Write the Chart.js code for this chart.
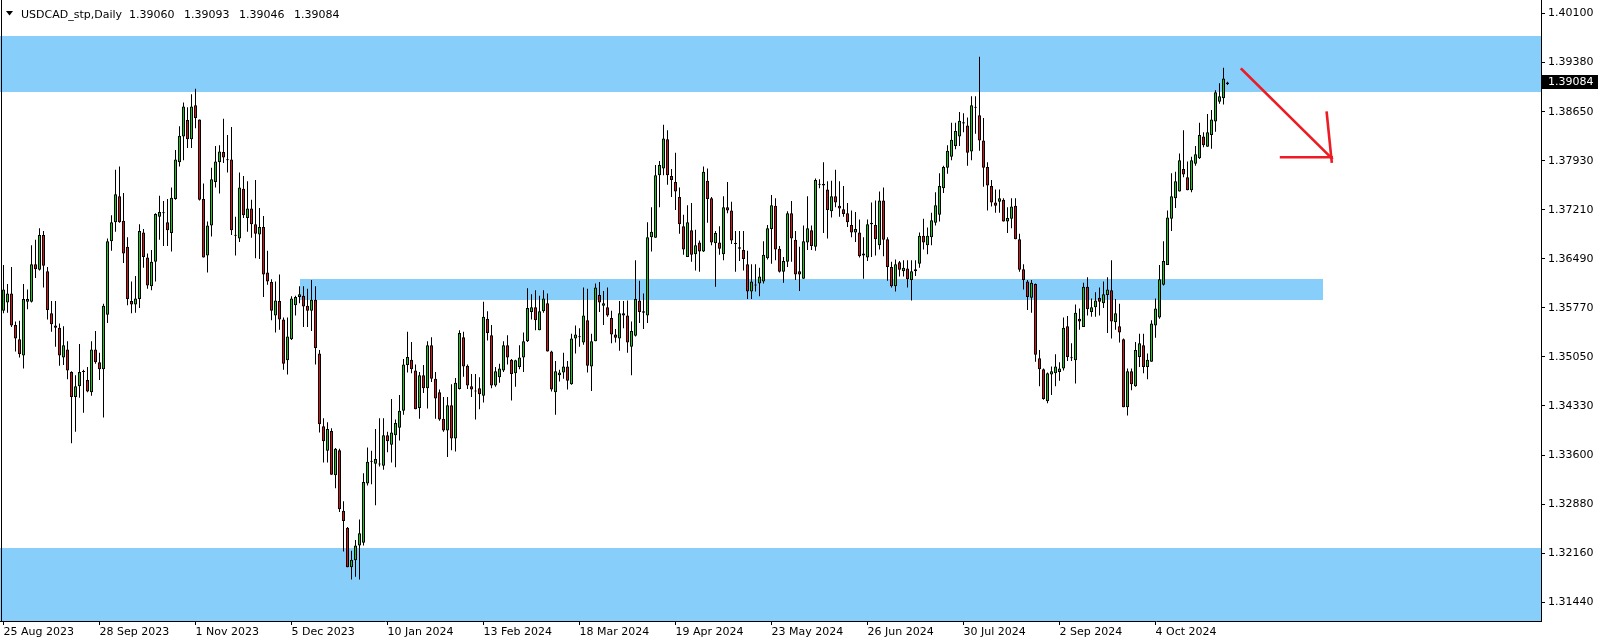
<!DOCTYPE html>
<html><head><meta charset="utf-8">
<script src="https://cdn.jsdelivr.net/npm/chart.js@4.4.1/dist/chart.umd.min.js"></script>
<style>html,body{margin:0;padding:0;background:#fff;overflow:hidden}#wrap{width:1604px;height:644px}</style>
</head><body><div id="wrap"><canvas id="c" width="1604" height="644"></canvas></div>
<script>
// ===== USDCAD_stp Daily — MT4 style candles =====
const SYMBOL='USDCAD_stp,Daily';
const DATE_TICKS=['25 Aug 2023','28 Sep 2023','1 Nov 2023','5 Dec 2023','10 Jan 2024','13 Feb 2024','18 Mar 2024','19 Apr 2024','23 May 2024','26 Jun 2024','30 Jul 2024','2 Sep 2024','4 Oct 2024'];
const TICK_EVERY=24;
const Y_TICKS=[1.40100,1.39380,1.38650,1.37930,1.37210,1.36490,1.35770,1.35050,1.34330,1.33600,1.32880,1.32160,1.31440];

const OPEN=[
1.3573,1.3585,1.3598,1.3552,1.3531,1.3507,1.3586,1.3586,1.3641,1.3633,
1.3684,1.3631,1.3569,1.3551,1.3548,1.3504,1.3516,1.3483,1.3446,1.3462,
1.3483,1.3471,1.3453,1.3516,1.3497,1.3487,1.3567,1.3675,1.3703,1.3741,
1.3705,1.3667,1.3587,1.3582,1.3590,1.3688,1.3651,1.3609,1.3645,1.3711,
1.3716,1.3703,1.3687,1.3737,1.3791,1.3829,1.3853,1.3825,1.3875,1.3854,
1.3737,1.3654,1.3698,1.3762,1.3791,1.3806,1.3795,1.3795,1.3683,1.3679,
1.3752,1.3709,1.3723,1.3700,1.3685,1.3696,1.3629,1.3615,1.3566,1.3587,
1.3560,1.3500,1.3531,1.3581,1.3593,1.3595,1.3580,1.3573,1.3589,1.3510,
1.3403,1.3367,1.3396,1.3331,1.3368,1.3279,1.3254,1.3196,1.3206,1.3228,
1.3232,1.3319,1.3351,1.3348,1.3347,1.3345,1.3390,1.3376,1.3390,1.3401,
1.3426,1.3493,1.3501,1.3485,1.3430,1.3478,1.3459,1.3522,1.3473,1.3453,
1.3414,1.3397,1.3434,1.3385,1.3458,1.3534,1.3492,1.3462,1.3454,1.3459,
1.3448,1.3561,1.3537,1.3463,1.3475,1.3485,1.3522,1.3501,1.3481,1.3490,
1.3504,1.3528,1.3571,1.3578,1.3544,1.3572,1.3584,1.3513,1.3453,1.3478,
1.3482,1.3491,1.3465,1.3532,1.3534,1.3526,1.3559,1.3491,1.3528,1.3596,
1.3580,1.3578,1.3562,1.3538,1.3532,1.3569,1.3566,1.3520,1.3536,1.3588,
1.3572,1.3566,1.3681,1.3680,1.3772,1.3782,1.3825,1.3771,1.3762,1.3740,
1.3697,1.3652,1.3691,1.3656,1.3673,1.3660,1.3764,1.3738,1.3672,1.3673,
1.3656,1.3725,1.3720,1.3671,1.3666,1.3662,1.3641,1.3601,1.3610,1.3613,
1.3616,1.3650,1.3693,1.3727,1.3664,1.3630,1.3645,1.3716,1.3677,1.3631,
1.3620,1.3673,1.3691,1.3667,1.3758,1.3757,1.3751,1.3719,1.3741,1.3727,
1.3722,1.3716,1.3699,1.3688,1.3688,1.3654,1.3651,1.3702,1.3699,1.3669,
1.3735,1.3678,1.3637,1.3609,1.3644,1.3631,1.3635,1.3618,1.3631,1.3642,
1.3683,1.3669,1.3681,1.3702,1.3714,1.3753,1.3783,1.3799,1.3815,1.3829,
1.3850,1.3845,1.3807,1.3871,1.3860,1.3823,1.3784,1.3756,1.3732,1.3733,
1.3736,1.3704,1.3708,1.3727,1.3678,1.3634,1.3616,1.3592,1.3612,1.3503,
1.3487,1.3440,1.3479,1.3481,1.3483,1.3488,1.3550,1.3503,1.3500,1.3561,
1.3549,1.3608,1.3571,1.3578,1.3592,1.3584,1.3596,1.3603,1.3556,1.3550,
1.3531,1.3431,1.3484,1.3462,1.3505,1.3522,1.3490,1.3498,1.3551,1.3563,
1.3611,1.3640,1.3708,1.3738,1.3748,1.3781,1.3769,1.3750,1.3789,1.3797,
1.3829,1.3814,1.3831,1.3851,1.3880,1.3885,1.39060];
const HIGH=[
1.3640,1.3612,1.3637,1.3557,1.3558,1.3612,1.3604,1.3669,1.3677,1.3694,
1.3690,1.3637,1.3587,1.3587,1.3554,1.3550,1.3528,1.3484,1.3478,1.3524,
1.3486,1.3490,1.3528,1.3543,1.3511,1.3583,1.3679,1.3713,1.3780,1.3785,
1.3746,1.3681,1.3616,1.3624,1.3700,1.3693,1.3657,1.3662,1.3716,1.3742,
1.3734,1.3737,1.3754,1.3809,1.3844,1.3879,1.3872,1.3891,1.3899,1.3854,
1.3760,1.3704,1.3783,1.3815,1.3816,1.3855,1.3831,1.3843,1.3711,1.3776,
1.3771,1.3763,1.3736,1.3765,1.3724,1.3712,1.3661,1.3619,1.3616,1.3626,
1.3563,1.3563,1.3594,1.3595,1.3609,1.3609,1.3605,1.3618,1.3609,1.3515,
1.3415,1.3409,1.3400,1.3371,1.3370,1.3293,1.3255,1.3220,1.3236,1.3266,
1.3334,1.3372,1.3367,1.3399,1.3415,1.3415,1.3395,1.3443,1.3413,1.3449,
1.3502,1.3542,1.3527,1.3494,1.3483,1.3493,1.3528,1.3534,1.3483,1.3457,
1.3446,1.3446,1.3465,1.3474,1.3544,1.3542,1.3494,1.3480,1.3480,1.3475,
1.3586,1.3572,1.3552,1.3490,1.3495,1.3528,1.3537,1.3502,1.3501,1.3522,
1.3541,1.3606,1.3597,1.3603,1.3595,1.3603,1.3598,1.3514,1.3499,1.3486,
1.3511,1.3499,1.3539,1.3551,1.3547,1.3607,1.3605,1.3539,1.3613,1.3615,
1.3602,1.3607,1.3573,1.3546,1.3587,1.3587,1.3588,1.3557,1.3647,1.3617,
1.3598,1.3703,1.3725,1.3787,1.3793,1.3846,1.3838,1.3781,1.3805,1.3754,
1.3714,1.3728,1.3731,1.3692,1.3676,1.3785,1.3782,1.3740,1.3690,1.3697,
1.3741,1.3762,1.3733,1.3690,1.3690,1.3690,1.3661,1.3641,1.3641,1.3636,
1.3675,1.3699,1.3743,1.3738,1.3668,1.3652,1.3719,1.3734,1.3690,1.3667,
1.3698,1.3741,1.3698,1.3767,1.3766,1.3791,1.3763,1.3764,1.3780,1.3763,
1.3756,1.3731,1.3720,1.3718,1.3707,1.3681,1.3707,1.3732,1.3735,1.3748,
1.3754,1.3681,1.3645,1.3648,1.3646,1.3647,1.3647,1.3647,1.3647,1.3688,
1.3708,1.3695,1.3717,1.3747,1.3775,1.3786,1.3816,1.3849,1.3849,1.3865,
1.3863,1.3857,1.3888,1.3888,1.3946,1.3856,1.3791,1.3765,1.3751,1.3751,
1.3738,1.3725,1.3738,1.3738,1.3686,1.3641,1.3618,1.3618,1.3613,1.3515,
1.3488,1.3482,1.3491,1.3509,1.3497,1.3563,1.3565,1.3525,1.3582,1.3576,
1.3614,1.3622,1.3591,1.3600,1.3607,1.3616,1.3622,1.3647,1.3590,1.3583,
1.3532,1.3488,1.3488,1.3527,1.3539,1.3539,1.3510,1.3559,1.3591,1.3640,
1.3675,1.3720,1.3775,1.3777,1.3804,1.3838,1.3792,1.3799,1.3815,1.3849,
1.3835,1.3862,1.3868,1.3897,1.3907,1.3930,1.39093];
const LOW=[
1.3569,1.3570,1.3549,1.3513,1.3504,1.3488,1.3575,1.3585,1.3621,1.3632,
1.3607,1.3560,1.3542,1.3520,1.3492,1.3493,1.3472,1.3378,1.3395,1.3445,
1.3423,1.3453,1.3448,1.3495,1.3471,1.3416,1.3555,1.3661,1.3689,1.3702,
1.3643,1.3581,1.3569,1.3570,1.3577,1.3636,1.3605,1.3603,1.3616,1.3677,
1.3668,1.3668,1.3660,1.3736,1.3785,1.3794,1.3812,1.3812,1.3841,1.3735,
1.3651,1.3629,1.3682,1.3754,1.3745,1.3790,1.3776,1.3684,1.3654,1.3674,
1.3709,1.3689,1.3680,1.3650,1.3649,1.3593,1.3611,1.3559,1.3541,1.3545,
1.3486,1.3479,1.3530,1.3566,1.3584,1.3549,1.3549,1.3543,1.3494,1.3394,
1.3350,1.3350,1.3332,1.3312,1.3277,1.3219,1.3196,1.3178,1.3182,1.3178,
1.3228,1.3316,1.3318,1.3287,1.3344,1.3339,1.3365,1.3350,1.3343,1.3382,
1.3420,1.3482,1.3481,1.3428,1.3414,1.3452,1.3429,1.3468,1.3414,1.3411,
1.3395,1.3358,1.3368,1.3366,1.3457,1.3476,1.3458,1.3446,1.3413,1.3428,
1.3438,1.3529,1.3459,1.3461,1.3467,1.3483,1.3494,1.3441,1.3461,1.3487,
1.3483,1.3527,1.3560,1.3544,1.3544,1.3570,1.3513,1.3454,1.3420,1.3469,
1.3473,1.3457,1.3464,1.3510,1.3520,1.3523,1.3482,1.3455,1.3528,1.3571,
1.3552,1.3564,1.3525,1.3526,1.3514,1.3547,1.3511,1.3478,1.3535,1.3555,
1.3546,1.3555,1.3660,1.3680,1.3725,1.3772,1.3758,1.3740,1.3721,1.3686,
1.3655,1.3652,1.3645,1.3632,1.3630,1.3659,1.3702,1.3669,1.3608,1.3655,
1.3647,1.3716,1.3671,1.3630,1.3646,1.3632,1.3590,1.3590,1.3601,1.3594,
1.3613,1.3648,1.3642,1.3647,1.3629,1.3614,1.3637,1.3645,1.3618,1.3602,
1.3620,1.3662,1.3662,1.3661,1.3753,1.3687,1.3679,1.3710,1.3725,1.3711,
1.3711,1.3696,1.3681,1.3674,1.3651,1.3620,1.3646,1.3652,1.3654,1.3663,
1.3653,1.3617,1.3607,1.3601,1.3623,1.3623,1.3607,1.3588,1.3624,1.3636,
1.3663,1.3656,1.3669,1.3698,1.3704,1.3746,1.3774,1.3794,1.3810,1.3815,
1.3835,1.3786,1.3794,1.3833,1.3808,1.3755,1.3720,1.3726,1.3717,1.3717,
1.3704,1.3687,1.3694,1.3678,1.3630,1.3604,1.3574,1.3570,1.3498,1.3462,
1.3442,1.3437,1.3449,1.3462,1.3470,1.3485,1.3499,1.3499,1.3466,1.3545,
1.3549,1.3566,1.3564,1.3564,1.3566,1.3577,1.3540,1.3532,1.3545,1.3526,
1.3431,1.3419,1.3456,1.3461,1.3490,1.3481,1.3472,1.3498,1.3533,1.3561,
1.3610,1.3640,1.3690,1.3724,1.3748,1.3769,1.3750,1.3747,1.3786,1.3796,
1.3813,1.3814,1.3811,1.3836,1.3877,1.3876,1.39046];
const CLOSE=[
1.3604,1.3598,1.3551,1.3532,1.3509,1.3590,1.3590,1.3641,1.3634,1.3684,
1.3639,1.3574,1.3553,1.3548,1.3507,1.3522,1.3485,1.3446,1.3462,1.3483,
1.3484,1.3454,1.3516,1.3497,1.3487,1.3580,1.3675,1.3703,1.3744,1.3703,
1.3657,1.3590,1.3582,1.3591,1.3690,1.3652,1.3610,1.3645,1.3715,1.3718,
1.3716,1.3691,1.3739,1.3795,1.3830,1.3873,1.3825,1.3873,1.3856,1.3736,
1.3651,1.3698,1.3766,1.3792,1.3807,1.3798,1.3794,1.3691,1.3683,1.3754,
1.3713,1.3723,1.3700,1.3686,1.3696,1.3626,1.3616,1.3573,1.3588,1.3560,
1.3495,1.3535,1.3591,1.3593,1.3597,1.3579,1.3573,1.3589,1.3518,1.3406,
1.3381,1.3399,1.3332,1.3370,1.3281,1.3264,1.3196,1.3207,1.3228,1.3246,
1.3321,1.3351,1.3351,1.3355,1.3347,1.3390,1.3381,1.3394,1.3408,1.3426,
1.3494,1.3505,1.3487,1.3428,1.3478,1.3459,1.3522,1.3473,1.3444,1.3413,
1.3397,1.3434,1.3385,1.3467,1.3540,1.3491,1.3463,1.3457,1.3454,1.3450,
1.3564,1.3540,1.3463,1.3484,1.3488,1.3522,1.3504,1.3480,1.3500,1.3504,
1.3528,1.3577,1.3578,1.3559,1.3572,1.3591,1.3513,1.3457,1.3484,1.3482,
1.3491,1.3470,1.3532,1.3538,1.3534,1.3566,1.3492,1.3528,1.3607,1.3585,
1.3584,1.3566,1.3538,1.3533,1.3569,1.3566,1.3526,1.3543,1.3590,1.3571,
1.3570,1.3681,1.3689,1.3772,1.3787,1.3826,1.3772,1.3765,1.3748,1.3700,
1.3663,1.3703,1.3655,1.3669,1.3660,1.3777,1.3737,1.3673,1.3687,1.3664,
1.3725,1.3720,1.3676,1.3671,1.3664,1.3649,1.3601,1.3616,1.3610,1.3623,
1.3655,1.3694,1.3728,1.3663,1.3630,1.3646,1.3716,1.3679,1.3626,1.3626,
1.3675,1.3694,1.3668,1.3765,1.3758,1.3759,1.3721,1.3741,1.3732,1.3723,
1.3715,1.3703,1.3688,1.3693,1.3653,1.3657,1.3700,1.3700,1.3678,1.3735,
1.3677,1.3637,1.3609,1.3641,1.3633,1.3636,1.3619,1.3631,1.3634,1.3683,
1.3673,1.3683,1.3706,1.3728,1.3756,1.3784,1.3808,1.3824,1.3837,1.3852,
1.3848,1.3805,1.3875,1.3871,1.3823,1.3783,1.3757,1.3732,1.3727,1.3738,
1.3704,1.3709,1.3726,1.3678,1.3633,1.3618,1.3593,1.3614,1.3508,1.3487,
1.3443,1.3481,1.3484,1.3491,1.3488,1.3548,1.3505,1.3503,1.3570,1.3557,
1.3608,1.3575,1.3578,1.3588,1.3586,1.3597,1.3604,1.3557,1.3569,1.3541,
1.3431,1.3484,1.3465,1.3515,1.3525,1.3490,1.3501,1.3554,1.3576,1.3619,
1.3646,1.3710,1.3741,1.3763,1.3794,1.3773,1.3750,1.3794,1.3803,1.3831,
1.3816,1.3835,1.3854,1.3894,1.3888,1.3914,1.39084];

// support / resistance boxes (price top, price bottom, bar from, bar to)
const ZONE_TOP=[1.3977,1.3620,1.3224];
const ZONE_BOTTOM=[1.3895,1.3588,1.2900];
const ZONE_FROM=[-5,74,-5];
const ZONE_TO=[400,329.9,400];
// hand drawn arrow: [bar, price, bar, price]
const ARROW=[[309.55,1.39277,332.05,1.37969],[319.4,1.37984,332.05,1.37984],[330.8,1.38639,332.05,1.37919]];

const COLORS={bull:'#11cc11',bear:'#dd1111',wick:'#000',zone:'#87cefa',arrow:'#ed1c24',text:'#000'};
const FONT='"DejaVu Sans",sans-serif';
Chart.defaults.font.family=FONT;Chart.defaults.font.size=11;Chart.defaults.color=COLORS.text;

const Y_MAX=1.40295,Y_MIN=1.31169;

const zonesPlugin={id:'zones',beforeDatasetsDraw(chart){
  const {ctx,chartArea:a,scales:{x,y}}=chart;
  ctx.save();ctx.beginPath();ctx.rect(a.left,a.top,a.right-a.left,a.bottom-a.top);ctx.clip();
  ctx.fillStyle=COLORS.zone;
  ZONE_TOP.forEach((t,i)=>{
    const x0=Math.round(x.getPixelForValue(ZONE_FROM[i])),x1=Math.round(x.getPixelForValue(ZONE_TO[i]));
    const y0=Math.round(y.getPixelForValue(t)),y1=Math.round(y.getPixelForValue(ZONE_BOTTOM[i]));
    ctx.fillRect(x0,y0,x1-x0,y1-y0);
  });
  ctx.restore();
}};

const arrowPlugin={id:'arrow',afterDatasetsDraw(chart){
  const {ctx,scales:{x,y}}=chart;
  ctx.save();ctx.strokeStyle=COLORS.arrow;ctx.lineWidth=2.6;ctx.lineCap='square';
  ARROW.forEach(s=>{
    ctx.beginPath();ctx.moveTo(x.getPixelForValue(s[0]),y.getPixelForValue(s[1]));
    ctx.lineTo(x.getPixelForValue(s[2]),y.getPixelForValue(s[3]));ctx.stroke();
  });
  ctx.restore();
}};

const overlayPlugin={id:'overlay',afterDraw(chart){
  const {ctx,chartArea:a,scales:{y}}=chart;
  ctx.save();
  // left frame
  ctx.fillStyle='#000';ctx.fillRect(1,0,1,a.bottom);
  // header: symbol then O H L C
  ctx.beginPath();ctx.moveTo(6,11);ctx.lineTo(13,11);ctx.lineTo(9.5,15.5);ctx.closePath();ctx.fill();
  ctx.font='11px '+FONT;ctx.textBaseline='alphabetic';ctx.textAlign='left';
  const last=OPEN.length-1;
  let tx=21;ctx.fillText(SYMBOL,tx,17.5);tx+=ctx.measureText(SYMBOL).width+7;
  [OPEN[last],HIGH[last],LOW[last],CLOSE[last]].forEach(v=>{
    const s=v.toFixed(5);ctx.fillText(s,tx,17.5);tx+=ctx.measureText(s).width+9.5;
  });
  // last price tag
  const py=Math.round(y.getPixelForValue(CLOSE[last]));
  ctx.fillStyle='#000';ctx.fillRect(a.right+1,py-7,56,14);
  ctx.fillStyle='#fff';ctx.textBaseline='middle';
  ctx.fillText(CLOSE[last].toFixed(5),a.right+7,py+0.5);
  ctx.restore();
}};

const bodies=OPEN.map((o,i)=>({x:i,y:[o,CLOSE[i]]}));
const wicks=LOW.map((l,i)=>({x:i,y:[l,HIGH[i]]}));

new Chart(document.getElementById('c'),{
  type:'bar',
  data:{datasets:[
    {label:'body',data:bodies,order:0,grouped:false,barThickness:3,minBarLength:1,inflateAmount:0,
      backgroundColor:c=>{const i=c.dataIndex;return CLOSE[i]>OPEN[i]?COLORS.bull:(CLOSE[i]<OPEN[i]?COLORS.bear:'#000');},
      borderColor:'#000',borderWidth:1,borderSkipped:false},
    {label:'wick',data:wicks,order:1,grouped:false,barThickness:1,inflateAmount:0,backgroundColor:COLORS.wick,borderWidth:0}
  ]},
  options:{responsive:false,animation:false,devicePixelRatio:1,layout:{padding:0},
    plugins:{legend:{display:false},tooltip:{enabled:false},title:{display:false}},
    scales:{
      x:{type:'linear',position:'bottom',offset:false,min:-0.875,max:384.375,
        afterBuildTicks:s=>{s.ticks=DATE_TICKS.map((_,k)=>({value:k*TICK_EVERY}));},
        afterFit:s=>{s.height=23;s.paddingLeft=0;s.paddingRight=0;},
        grid:{drawOnChartArea:false,drawTicks:true,tickLength:4,color:'#000',offset:false},
        border:{display:true,color:'#000',width:1},
        ticks:{align:'start',autoSkip:false,maxRotation:0,minRotation:0,padding:1,
          callback:v=>DATE_TICKS[Math.round(v/TICK_EVERY)]}},
      y:{type:'linear',position:'right',min:Y_MIN,max:Y_MAX,
        afterBuildTicks:s=>{s.ticks=Y_TICKS.map(v=>({value:v}));},
        afterFit:s=>{s.width=63;s.paddingTop=0;s.paddingBottom=0;},
        grid:{drawOnChartArea:false,drawTicks:true,tickLength:4,color:'#000'},
        border:{display:true,color:'#000',width:1},
        ticks:{padding:3,callback:v=>Number(v).toFixed(5)}}
    }},
  plugins:[zonesPlugin,arrowPlugin,overlayPlugin]
});
</script></body></html>
